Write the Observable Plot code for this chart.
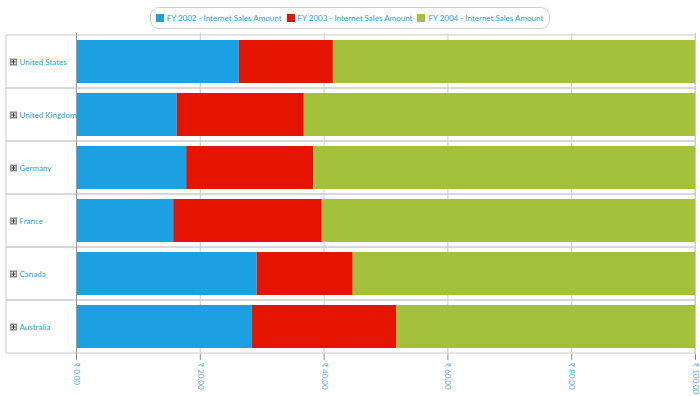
<!DOCTYPE html>
<html>
<head>
<meta charset="utf-8">
<script src="https://cdn.jsdelivr.net/npm/d3@7"></script>
<script src="https://cdn.jsdelivr.net/npm/@observablehq/plot@0.6"></script>
<style>
  html, body { margin: 0; padding: 0; background: #fff; }
  body { width: 700px; height: 396px; overflow: hidden; font-family: Lato, "Noto Sans", sans-serif; }
  #legend { height: 33px; display: flex; justify-content: center; align-items: flex-start; }
  #legend .box {
    margin-top: 7px; height: 20px; border: 1px solid #cfcfcf; border-radius: 9px;
    display: flex; align-items: center; padding: 0 6px 0 5px; gap: 5px;
    font-size: 8px; color: #1ba1e2;
  }
  #legend .item { display: flex; align-items: center; gap: 3px; white-space: nowrap; }
  #legend .sw { width: 8px; height: 8px; display: inline-block; }
  #chart svg { display: block; }
</style>
</head>
<body>
<div id="legend"></div>
<div id="chart"></div>
<script>
// Internet sales share by country and fiscal year (percent of each country's total)
const countries = ["United States", "United Kingdom", "Germany", "France", "Canada", "Australia"];
const series = ["FY 2002 - Internet Sales Amount", "FY 2003 - Internet Sales Amount", "FY 2004 - Internet Sales Amount"];
const fy2002 = [26.3, 16.3, 17.8, 15.7, 29.2, 28.4];
const fy2003 = [15.2, 20.5, 20.5, 24.0, 15.5, 23.3];
const fy2004 = [58.5, 63.2, 61.7, 60.3, 55.3, 48.3];
const seriesColors = ["#1ba1e2", "#e51400", "#a3c13a"];
const xTicks = [0, 20, 40, 60, 80, 100];

const values = [fy2002, fy2003, fy2004];
const table = series.flatMap((s, i) => countries.map((c, j) => ({country: c, series: s, value: values[i][j]})));

// legend
const legend = d3.select("#legend").append("div").attr("class", "box");
series.forEach((s, i) => {
  const item = legend.append("div").attr("class", "item");
  item.append("span").attr("class", "sw").style("background", seriesColors[i]);
  item.append("span").text(s);
});

// a thin "+" drawn with strokes, for the expander boxes
const plusSymbol = {
  draw(context, size) {
    const r = Math.sqrt(size) / 2;
    context.moveTo(-r, 0); context.lineTo(r, 0);
    context.moveTo(0, -r); context.lineTo(0, r);
  }
};

const gridColor = "#cccccc";
const chart = Plot.plot({
  width: 700,
  height: 363,
  marginLeft: 76,
  marginRight: 5,
  marginTop: 0,
  marginBottom: 42,
  style: {fontFamily: "Lato, 'Noto Sans', sans-serif", fontSize: "8px", background: "#fff"},
  x: {domain: [0, 100], label: null},
  y: {domain: countries, padding: 0, axis: null},
  color: {domain: series, range: seriesColors},
  marks: [
    Plot.ruleX(xTicks, {stroke: gridColor}),
    // row frames, extended across the label column
    Plot.barX(countries, {y: d => d, x1: 0, x2: 100, fill: "none", stroke: gridColor, insetLeft: -70}),
    Plot.barX(table, {y: "country", x: "value", fill: "series", insetTop: 5, insetBottom: 5}),
    Plot.ruleX([0], {stroke: "#9a9a9a"}),
    Plot.ruleY([0], {frameAnchor: "bottom", stroke: "#9a9a9a"}),
    // expander boxes and row labels
    Plot.dot(countries, {y: d => d, frameAnchor: "left", dx: -63, symbol: "square", r: 3.2, fill: "#fff", stroke: "#8a8a8a"}),
    Plot.dot(countries, {y: d => d, frameAnchor: "left", dx: -63, symbol: plusSymbol, r: 2.2, fill: "none", stroke: "#333", strokeWidth: 1}),
    Plot.text(countries, {y: d => d, frameAnchor: "left", dx: -57, text: d => d, textAnchor: "start", fill: "#1ba1e2", fontSize: 8}),
    Plot.axisX({ticks: xTicks, tickSize: 6, tickFormat: () => "", stroke: "#8a8a8a"}),
    Plot.axisX({ticks: xTicks, tickSize: 0, tickPadding: 8, tickRotate: 90, tickFormat: d => "₹ " + d.toFixed(2), fill: "#5aaee6", fontSize: 8})
  ]
});
document.getElementById("chart").appendChild(chart);
</script>
</body>
</html>
